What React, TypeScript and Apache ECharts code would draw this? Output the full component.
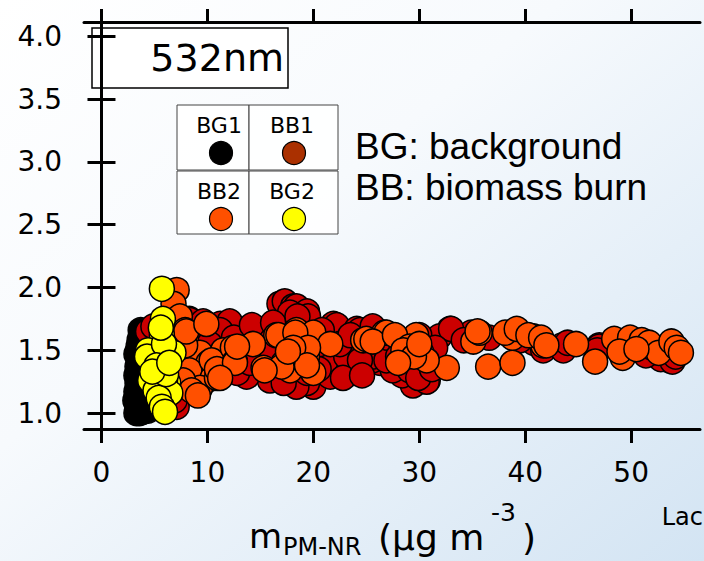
import React, { useEffect, useRef } from "react";
import * as echarts from "echarts";

// ---- data ----
const xTicks = [0, 10, 20, 30, 40, 50];
const yTicks = [1.0, 1.5, 2.0, 2.5, 3.0, 3.5, 4.0];

const seriesNames = ["BG1", "BB1", "BB2", "BG2"];
const seriesColors = ["#000000", "#cc0000", "#ff5000", "#ffff00"];
const legendColors = ["#000000", "#aa3000", "#ff5000", "#ffff00"];

const bg1: number[][] = [
  [3.3, 1.0], [3.6, 1.0], [3.9, 1.01], [3.4, 1.05], [3.8, 1.06], [3.2, 1.1], [3.6, 1.12], [4.0, 1.13],
  [3.3, 1.17], [3.7, 1.19], [3.4, 1.24], [3.9, 1.25], [3.3, 1.3], [3.7, 1.32], [3.4, 1.37], [3.8, 1.39],
  [3.5, 1.43], [3.3, 1.47], [3.7, 1.49], [3.5, 1.53], [3.9, 1.55], [3.6, 1.58], [3.8, 1.62], [4.0, 1.64],
  [3.7, 1.66], [4.2, 1.6], [4.1, 1.52], [4.3, 1.08], [4.2, 1.3], [4.4, 1.02],
];

const bb1: number[][] = [
  [4.4, 1.65], [4.9, 1.69], [5.5, 1.42], [7.1, 1.05], [6.9, 1.1],
  [8.3, 1.75], [9.8, 1.71], [11.2, 1.71], [11.0, 1.62], [8.35, 1.74], [9.6, 1.73], [12.1, 1.71], [15.0, 1.66],
  [16.8, 1.87], [17.3, 1.89], [18.1, 1.85], [18.4, 1.85], [19.4, 1.79], [19.4, 1.81], [19.5, 1.77], [17.8, 1.8], [18.5, 1.77],
  [21.9, 1.71], [22.2, 1.7], [24.1, 1.67], [25.3, 1.66], [24.4, 1.66], [25.6, 1.69], [12.1, 1.73], [14.6, 1.66], [11.2, 1.66],
  [8.0, 1.34], [9.9, 1.26], [13.7, 1.32], [15.9, 1.26], [18.1, 1.29], [20.0, 1.21], [19.4, 1.24], [18.4, 1.21], [17.2, 1.24],
  [21.6, 1.29], [13.7, 1.29], [12.8, 1.32], [19.4, 1.32], [23.8, 1.32],
  [25.0, 1.42], [26.3, 1.4], [13.1, 1.48], [16.5, 1.45], [21.2, 1.42], [20.6, 1.55], [15.0, 1.58], [26.3, 1.5], [25.6, 1.42], [23.1, 1.45],
  [32.9, 1.67], [31.9, 1.61], [29.4, 1.22], [30.8, 1.26], [28.4, 1.3], [27.5, 1.34], [25.6, 1.45], [24.4, 1.42],
  [40.8, 1.56], [43.5, 1.54], [47.0, 1.54], [53.6, 1.42], [52.8, 1.43], [34.9, 1.64], [40.8, 1.61],
  [30.7, 1.25], [33.0, 1.67], [29.1, 1.34], [26.9, 1.42], [29.7, 1.41], [41.7, 1.5], [43.6, 1.5], [47.0, 1.53], [51.4, 1.46], [53.9, 1.41],
  [7.5, 1.5], [8.8, 1.6], [10.2, 1.55], [11.8, 1.45], [14.0, 1.4], [16.0, 1.52], [17.5, 1.58], [20.5, 1.35], [22.5, 1.55],
  [23.5, 1.62], [27.0, 1.6], [28.5, 1.55], [30.0, 1.62], [31.5, 1.52], [28.0, 1.45], [9.0, 1.42], [10.8, 1.35], [6.8, 1.3],
  [7.2, 1.62], [22.8, 1.28], [24.6, 1.3], [29.9, 1.28], [31.2, 1.35], [12.5, 1.6], [14.2, 1.7], [16.2, 1.72], [20.8, 1.66],
  [48.8, 1.52], [50.5, 1.55], [54.2, 1.45], [46.8, 1.5], [36.6, 1.6], [34.2, 1.58], [39.5, 1.58], [44.0, 1.56], [52.0, 1.52],
];

const bb2: number[][] = [
  [7.1, 1.98], [6.8, 1.87], [7.4, 1.77], [8.0, 1.57], [9.3, 1.48], [10.1, 1.4], [8.3, 1.34], [10.5, 1.28], [9.3, 1.2],
  [7.7, 1.26], [11.5, 1.5], [7.9, 1.66], [8.5, 1.18],
  [7.9, 1.54], [8.0, 1.65], [9.1, 1.14], [10.9, 1.28], [10.4, 1.42], [12.4, 1.52], [12.6, 1.41], [15.3, 1.36], [16.5, 1.62],
  [18.4, 1.66], [20.0, 1.64], [21.6, 1.55], [17.8, 1.34], [19.4, 1.45], [20.0, 1.32], [24.7, 1.58], [9.9, 1.71], [14.3, 1.55],
  [10.9, 1.35], [17.2, 1.4],
  [16.7, 1.62], [18.3, 1.64], [19.5, 1.52], [18.1, 1.52], [17.0, 1.37], [15.4, 1.34], [19.4, 1.38], [12.6, 1.4], [12.8, 1.53],
  [11.2, 1.28], [25.0, 1.59], [26.7, 1.64], [17.6, 1.49],
  [26.9, 1.64], [29.7, 1.62], [32.6, 1.36], [35.1, 1.57], [35.7, 1.64], [36.5, 1.37], [38.8, 1.4], [38.8, 1.6], [38.1, 1.64], [41.7, 1.54],
  [25.6, 1.57], [27.7, 1.62], [29.1, 1.53], [30.2, 1.48], [30.7, 1.42], [35.5, 1.65], [39.2, 1.67], [40.3, 1.62],
  [41.5, 1.6], [42.0, 1.54], [44.8, 1.55], [46.6, 1.41], [48.4, 1.59], [49.2, 1.44], [49.9, 1.6], [51.0, 1.58], [51.7, 1.56],
  [52.6, 1.48], [53.8, 1.57], [54.3, 1.52], [54.7, 1.48], [48.9, 1.49], [50.5, 1.51],
  [28.5, 1.5], [29.5, 1.45], [28.0, 1.4], [30.0, 1.55],
];

const bg2: number[][] = [
  [5.7, 1.99], [5.8, 1.75], [5.7, 1.62], [4.4, 1.5], [6.2, 1.49], [5.4, 1.44], [4.3, 1.45], [6.8, 1.48], [5.5, 1.34],
  [4.6, 1.26], [6.3, 1.24], [6.0, 1.26], [5.7, 1.2], [5.1, 1.18], [6.5, 1.16], [5.4, 1.12], [5.7, 1.05], [6.0, 1.01],
  [5.9, 1.55], [5.2, 1.38], [6.1, 1.31], [5.6, 1.68], [4.8, 1.33], [6.4, 1.4],
];

const seriesData = [bg1, bb1, bb2, bg2];

const FONT = "DejaVu Sans";

export default function App() {
  const ref = useRef<HTMLDivElement>(null);
  useEffect(() => {
    if (!ref.current) return;
    const chart = echarts.init(ref.current, undefined, { renderer: "svg" });

    const axisLine = { show: true, lineStyle: { color: "#000", width: 3 } };
    const tickStyle = { color: "#000", width: 3 };
    const xMin = -1.65, xMax = 56.5, yMin = 0.873, yMax = 4.115;

    const legendCells = [
      { x: 177, y: 105, w: 72, h: 65 },
      { x: 249, y: 105, w: 89, h: 65 },
      { x: 177, y: 171, w: 72, h: 63 },
      { x: 249, y: 171, w: 89, h: 63 },
    ];
    const legendLabels = ["BG1", "BB1", "BB2", "BG2"];
    const legendGraphics: any[] = [];
    legendLabels.forEach((lab, i) => {
      const c = legendCells[i];
      const cx = i % 2 === 0 ? 221 : 294;
      legendGraphics.push({
        type: "rect",
        shape: { x: c.x, y: c.y, width: c.w, height: c.h },
        style: { fill: "rgba(255,255,255,0.85)", stroke: "#444", lineWidth: 1 },
      });
      legendGraphics.push({
        type: "text",
        x: cx - 2,
        y: c.y + 20,
        style: { text: lab, fontSize: 22, fontFamily: FONT, fill: "#000", align: "center", verticalAlign: "middle" },
      });
      legendGraphics.push({
        type: "circle",
        shape: { cx, cy: c.y + 48, r: 11.5 },
        style: { fill: legendColors[i], stroke: "#000", lineWidth: 1.2 },
      });
    });

    chart.setOption({
      animation: false,
      backgroundColor: new echarts.graphic.LinearGradient(0, 0, 1, 1, [
        { offset: 0, color: "#ffffff" },
        { offset: 0.4, color: "#f7fafd" },
        { offset: 1, color: "#d3e4f3" },
      ]),
      grid: { left: 84, top: 22, width: 616, height: 407, containLabel: false },
      xAxis: [
        {
          type: "value", min: xMin, max: xMax, position: "bottom",
          axisLine, splitLine: { show: false },
          axisTick: { show: true, customValues: xTicks, length: 14, lineStyle: tickStyle },
          axisLabel: { customValues: xTicks, margin: 29, fontSize: 28, fontFamily: FONT, color: "#000" },
        },
        {
          type: "value", min: xMin, max: xMax, position: "top",
          axisLine, splitLine: { show: false },
          axisTick: { show: true, customValues: xTicks, length: 13, lineStyle: tickStyle },
          axisLabel: { show: false },
        },
      ],
      yAxis: [
        {
          type: "value", min: yMin, max: yMax, position: "left",
          axisLine, splitLine: { show: false },
          axisTick: { show: true, customValues: yTicks, length: 14, lineStyle: tickStyle },
          axisLabel: {
            customValues: yTicks, margin: 22, fontSize: 28, fontFamily: FONT, color: "#000",
            formatter: (v: number) => v.toFixed(1),
          },
        },
        {
          type: "value", min: yMin, max: yMax, position: "right",
          axisLine, splitLine: { show: false },
          axisTick: { show: true, customValues: yTicks, length: 14, lineStyle: tickStyle },
          axisLabel: { show: false },
        },
      ],
      series: seriesData.map((d, i) => ({
        name: seriesNames[i],
        type: "scatter",
        xAxisIndex: 0,
        yAxisIndex: 0,
        data: d,
        symbol: "circle",
        symbolSize: 25,
        itemStyle: { color: seriesColors[i], borderColor: "#000", borderWidth: 1.5, opacity: 1 },
        z: 2 + i,
      })),
      graphic: [
        {
          type: "rect",
          shape: { x: 92, y: 28, width: 196, height: 60 },
          style: { fill: "rgba(255,255,255,0.9)", stroke: "#000", lineWidth: 1.5 },
        },
        {
          type: "text", x: 284, y: 58,
          style: { text: "532nm", fontSize: 38, fontFamily: FONT, fill: "#000", align: "right", verticalAlign: "middle" },
        },
        ...legendGraphics,
        {
          type: "text", x: 355, y: 146,
          style: { text: "BG: background", fontSize: 37, fontFamily: "Liberation Sans", fill: "#000", align: "left", verticalAlign: "middle" },
        },
        {
          type: "text", x: 355, y: 187,
          style: { text: "BB: biomass burn", fontSize: 37, fontFamily: "Liberation Sans", fill: "#000", align: "left", verticalAlign: "middle" },
        },
        // x-axis title: m_PM-NR (µg m^-3)
        {
          type: "text", x: 249, y: 553,
          style: { text: "m", fontSize: 34, fontFamily: FONT, fill: "#000", align: "left", verticalAlign: "bottom" },
        },
        {
          type: "text", x: 283, y: 559,
          style: { text: "PM-NR", fontSize: 24, fontFamily: FONT, fill: "#000", align: "left", verticalAlign: "bottom" },
        },
        {
          type: "text", x: 378, y: 555,
          style: { text: "(\u00b5g m", fontSize: 36, fontFamily: FONT, fill: "#000", align: "left", verticalAlign: "bottom" },
        },
        {
          type: "text", x: 491, y: 525,
          style: { text: "-3", fontSize: 25, fontFamily: FONT, fill: "#000", align: "left", verticalAlign: "bottom" },
        },
        {
          type: "text", x: 522, y: 555,
          style: { text: ")", fontSize: 36, fontFamily: FONT, fill: "#000", align: "left", verticalAlign: "bottom" },
        },
        {
          type: "text", x: 703, y: 517,
          style: { text: "Lac", fontSize: 24, fontFamily: FONT, fill: "#000", align: "right", verticalAlign: "middle" },
        },
      ],
    });
    return () => chart.dispose();
  }, []);
  return (
    <div
      ref={ref}
      style={{ position: "absolute", left: 0, top: 0, width: 704, height: 561 }}
    />
  );
}
